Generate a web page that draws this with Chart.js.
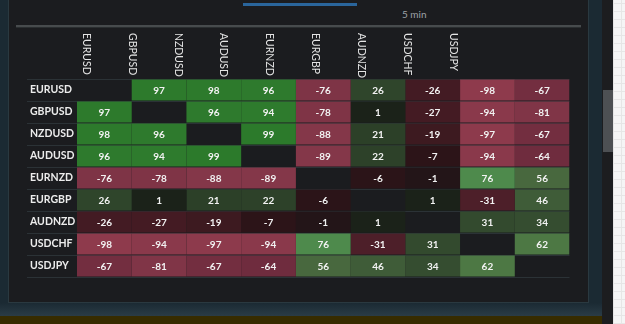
<!DOCTYPE html>
<html>
<head>
<meta charset="utf-8">
<script src="https://cdn.jsdelivr.net/npm/chart.js@4"></script>
<style>
  html, body { margin: 0; padding: 0; }
  body { width: 625px; height: 324px; position: relative; overflow: hidden; background: #1b2a33; font-family: Lato, sans-serif; }
  #panel { position: absolute; left: 8px; top: -2px; width: 579px; height: 303px; background: #1b1c1f; border: 1px solid #2a3940; }
  #tabline { position: absolute; left: 243px; top: 3px; width: 114px; height: 3px; background: #2a659b; }
  #period { position: absolute; left: 402px; top: 8px; font-size: 10px; color: #9ea3a8; }
  #rule { position: absolute; left: 16px; top: 25px; width: 565px; height: 2px; background: #474b4d; border-bottom: 1px solid #2a2e30; }
  #bottom { position: absolute; left: 0; top: 303px; width: 602px; height: 13px; background: linear-gradient(#1b2a33, #2a3c46); }
  #yellow { position: absolute; left: 0; top: 316px; width: 602px; height: 8px; background: #372c00; }
  #track { position: absolute; left: 602px; top: 0; width: 11px; height: 324px; background: #1c1d1f; }
  #thumb { position: absolute; left: 603px; top: 90px; width: 10px; height: 62px; background: #4d5053; }
  #paper { position: absolute; left: 613px; top: 0; width: 12px; height: 324px; background-color: #f5f5f5;
    background-image: repeating-linear-gradient(90deg, #e6e6e6 0 1px, transparent 1px 8px), repeating-linear-gradient(0deg, #e6e6e6 0 1px, transparent 1px 8px); }
  #wrap { position: absolute; left: 0; top: 0; width: 600px; height: 300px; }
</style>
</head>
<body>
<div id="panel"></div>
<div id="tabline"></div>
<div id="period">5 min</div>
<div id="rule"></div>
<div id="bottom"></div>
<div id="yellow"></div>
<div id="track"></div>
<div id="thumb"></div>
<div id="paper"></div>
<div id="wrap"><canvas id="corr"></canvas></div>
<script>
(function () {
  const pairs = ["EURUSD", "GBPUSD", "NZDUSD", "AUDUSD", "EURNZD", "EURGBP", "AUDNZD", "USDCHF", "USDJPY"];

  // correlation (%) of each row pair against the columns, null on the diagonal
  const corrEURUSD = [null, 97, 98, 96, -76, 26, -26, -98, -67];
  const corrGBPUSD = [97, null, 96, 94, -78, 1, -27, -94, -81];
  const corrNZDUSD = [98, 96, null, 99, -88, 21, -19, -97, -67];
  const corrAUDUSD = [96, 94, 99, null, -89, 22, -7, -94, -64];
  const corrEURNZD = [-76, -78, -88, -89, null, -6, -1, 76, 56];
  const corrEURGBP = [26, 1, 21, 22, -6, null, 1, -31, 46];
  const corrAUDNZD = [-26, -27, -19, -7, -1, 1, null, 31, 34];
  const corrUSDCHF = [-98, -94, -97, -94, 76, -31, 31, null, 62];
  const corrUSDJPY = [-67, -81, -67, -64, 56, 46, 34, 62, null];

  const matrix = [corrEURUSD, corrGBPUSD, corrNZDUSD, corrAUDUSD, corrEURNZD,
                  corrEURGBP, corrAUDNZD, corrUSDCHF, corrUSDJPY];

  // colour ramps
  const greenStops = [[0, [27, 33, 26]], [1, [27, 34, 25]], [21, [44, 64, 40]], [34, [53, 77, 48]],
    [46, [63, 92, 56]], [56, [72, 104, 62]], [62, [77, 120, 68]], [76, [78, 138, 76]],
    [90, [48, 123, 47]], [100, [44, 122, 43]]];
  const redStops = [[0, [30, 22, 25]], [1, [35, 21, 24]], [7, [44, 20, 24]], [19, [61, 26, 32]],
    [27, [68, 27, 35]], [31, [77, 31, 41]], [64, [111, 44, 62]], [67, [115, 46, 64]],
    [76, [126, 52, 70]], [89, [132, 55, 73]], [98, [142, 58, 76]]];

  function ramp(stops, v) {
    for (let i = 1; i < stops.length; i++) {
      if (v <= stops[i][0]) {
        const [a, ca] = stops[i - 1], [b, cb] = stops[i];
        const t = (v - a) / (b - a);
        const c = ca.map((x, k) => Math.round(x + (cb[k] - x) * t));
        return "rgb(" + c.join(",") + ")";
      }
    }
    return "rgb(" + stops[stops.length - 1][1].join(",") + ")";
  }

  function cellColor(v) {
    if (v === null) return "rgba(0,0,0,0)";
    return v >= 0 ? ramp(greenStops, v) : ramp(redStops, -v);
  }

  const datasets = pairs.map((col, j) => ({
    label: col,
    data: pairs.map(() => 1),
    backgroundColor: (ctx) => cellColor(matrix[ctx.dataIndex][j]),
    borderWidth: 0,
    categoryPercentage: 1,
    barPercentage: 0.955
  }));

  const cellText = {
    id: "cellText",
    afterDatasetsDraw(chart) {
      const ctx = chart.ctx;
      ctx.save();
      ctx.font = "bold 10px Lato";
      ctx.fillStyle = "#f2f2f2";
      ctx.textAlign = "center";
      ctx.textBaseline = "middle";
      chart.data.datasets.forEach((ds, j) => {
        chart.getDatasetMeta(j).data.forEach((el, i) => {
          const v = matrix[i][j];
          if (v === null) return;
          const p = el.getCenterPoint();
          ctx.fillText(String(v), p.x, p.y + 1);
        });
      });
      ctx.restore();
    }
  };

  // column names sit on their own (narrower) header grid, rotated clockwise
  const colHeaders = {
    id: "colHeaders",
    afterDraw(chart) {
      const hdr = chart.scales.hdr;
      const ctx = chart.ctx;
      ctx.save();
      ctx.font = "10.5px Lato";
      ctx.fillStyle = "#e4e4e4";
      ctx.textAlign = "left";
      ctx.textBaseline = "middle";
      pairs.forEach((name, i) => {
        ctx.save();
        ctx.translate(hdr.getPixelForValue(i + 0.5), 33);
        ctx.rotate(Math.PI / 2);
        ctx.fillText(name, 0, 0);
        ctx.restore();
      });
      ctx.restore();
    }
  };

  new Chart(document.getElementById("corr"), {
    type: "bar",
    data: { labels: pairs, datasets: datasets },
    plugins: [cellText, colHeaders],
    options: {
      indexAxis: "y",
      responsive: true,
      maintainAspectRatio: false,
      animation: false,
      layout: { padding: { left: 30, top: 79, right: 30.5, bottom: 23 } },
      scales: {
        x: { type: "linear", stacked: true, min: 0, max: 9, display: false },
        hdr: { type: "linear", axis: "x", position: "top", min: 0.3, max: 11.03, display: false },
        y: {
          type: "category",
          stacked: true,
          offset: true,
          border: { display: false },
          grid: { offset: true, color: "#2b3236", lineWidth: 1, drawTicks: true, tickLength: 50, tickColor: "#2b3236" },
          ticks: { crossAlign: "far", padding: 0, color: "#ececec", font: { family: "Lato", size: 10.5, weight: "bold" } },
          afterFit: (scale) => { scale.width = 47; }
        }
      },
      plugins: {
        legend: { display: false },
        tooltip: { enabled: false }
      }
    }
  });
})();
</script>
</body>
</html>
